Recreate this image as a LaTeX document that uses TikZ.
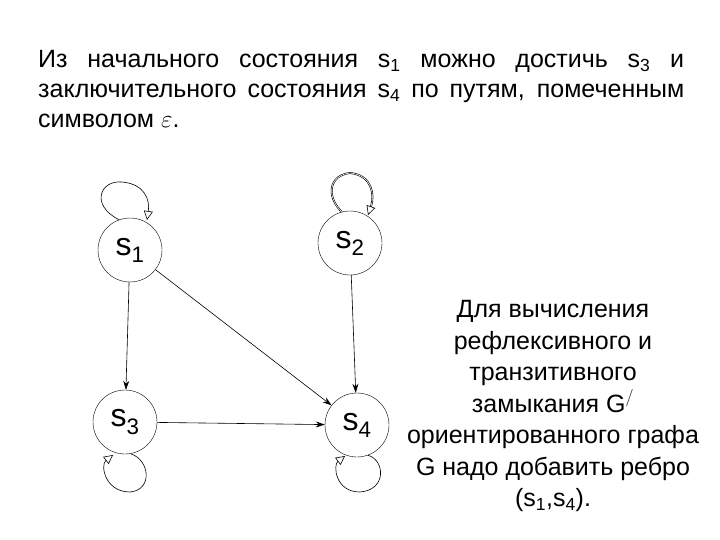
\documentclass[tikz,border=0pt]{standalone}
\usepackage{fontspec}
\setmainfont{Liberation Sans}
\usetikzlibrary{arrows.meta}
\newcommand{\sbs}[1]{\textsubscript{#1}}
\begin{document}
\begin{tikzpicture}[x=1pt,y=-1pt,
 st/.style={circle,draw,minimum size=64pt,inner sep=0pt,font=\fontsize{32}{32}\selectfont},
 ed/.style={-{Stealth[length=9pt,width=6pt]},semithick},
 lp/.style={-{Triangle[open,length=9pt,width=9pt]},semithick}]
\useasboundingbox (0,0) rectangle (720,540);
\node[text width=646pt,align=justify,anchor=north west,inner sep=0pt,font=\fontsize{25}{30}\selectfont] (t) at (38,50)
 {Из начального состояния s\sbs{1} можно достичь s\sbs{3} и заключительного состояния s\sbs{4} по путям, помеченным символом $\varepsilon$.};
\node[st] (s1) at (130,250) {s\sbs{1}};
\node[st] (s2) at (350,243) {s\sbs{2}};
\node[st] (s3) at (125,422) {s\sbs{3}};
\node[st] (s4) at (357,425) {s\sbs{4}};
\draw[ed] (s1) -- (s3);
\draw[ed] (s1) -- (s4);
\draw[ed] (s2) -- (s4);
\draw[ed] (s3) -- (s4);
\draw[lp] (s1.110) .. controls (90,205) and (100,180) .. (122,182) .. controls (145,184) and (150,200) .. (147,220);
\draw[lp,double] (s2.105) .. controls (325,195) and (330,175) .. (350,173) .. controls (372,175) and (375,195) .. (368,215);
\draw[lp] (s3.-80) .. controls (150,460) and (153,490) .. (130,492) .. controls (105,492) and (100,465) .. (113,455);
\draw[lp] (s4.-70) .. controls (385,460) and (387,490) .. (360,492) .. controls (335,492) and (333,465) .. (345,456);
\node[align=center,font=\fontsize{25}{31.5}\selectfont] (r) at (553,406)
 {Для вычисления\\рефлексивного и\\транзитивного\\замыкания G$^{/}$\\ориентированного графа\\G надо добавить ребро\\(s\sbs{1},s\sbs{4}).};
\end{tikzpicture}
\end{document}
